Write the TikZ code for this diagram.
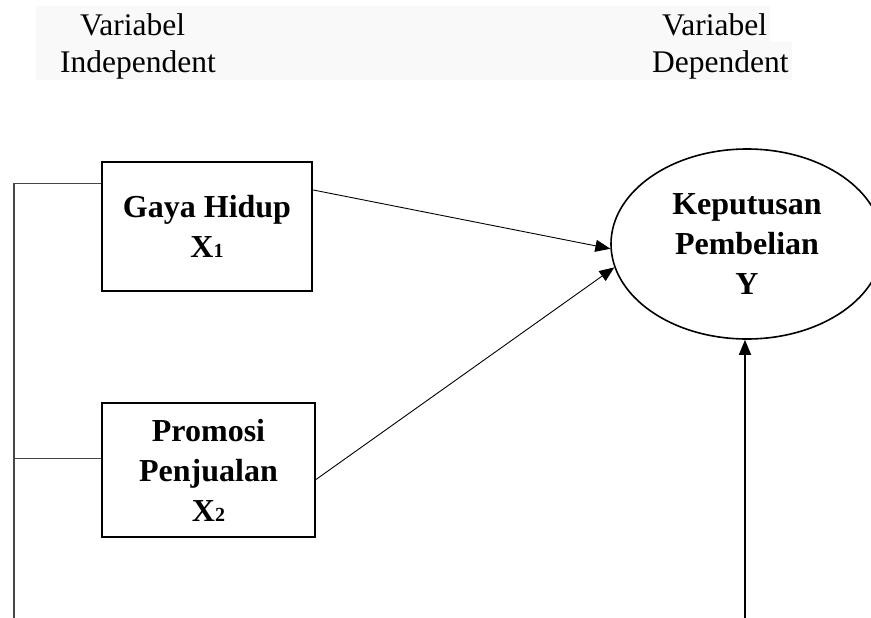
\documentclass[tikz,border=0pt]{standalone}
\usepackage{fontspec}
\setmainfont{Liberation Serif}
\usetikzlibrary{arrows.meta,shapes.geometric}
\definecolor{bandgray}{RGB}{249,249,249}
\definecolor{linegray}{RGB}{70,70,70}
\newcommand{\subsc}[1]{{\fontsize{20}{20}\selectfont #1}}
\begin{document}
\begin{tikzpicture}[x=1pt,y=-1pt,
  varbox/.style={draw, line width=2.2pt, rectangle, inner sep=0pt, align=center,
    font=\fontsize{32}{40}\selectfont\bfseries},
  varell/.style={draw, line width=1.6pt, ellipse, inner sep=0pt, align=center,
    font=\fontsize{32}{40}\selectfont\bfseries},
  lbl/.style={inner sep=0pt, anchor=base west, font=\fontsize{31.5}{37}\selectfont},
  arr/.style={line width=0.9pt, -{Triangle[length=15pt,width=12pt]}},
  feed/.style={line width=1.2pt, linegray}
]
\useasboundingbox (0,0) rectangle (871,618);
\fill[bandgray] (36,6) -- (770,6) -- (770,42) -- (792,42) -- (792,80) -- (36,80) -- cycle;

\node[lbl] (v1) at (80,36) {Variabel};
\node[lbl] (i1) at (60,73) {Independent};
\node[lbl] (v2) at (662,36) {Variabel};
\node[lbl] (d2) at (652,73) {Dependent};

\node[varbox, minimum width=210pt, minimum height=129pt] (g1) at (207,226.5)
  {Gaya Hidup\\X\subsc{1}};
\node[varbox, minimum width=213pt, minimum height=134pt] (g2) at (208.5,470)
  {Promosi\\Penjualan\\X\subsc{2}};
\node[varell, minimum width=272pt, minimum height=190pt] (y) at (747,244)
  {Keputusan\\Pembelian\\Y};

\coordinate (lb) at (14,618);
\coordinate (yb) at (745,618);

\draw[feed] (g1.158) -| (lb);
\draw[feed] (g2.174) -- (g2.174 -| lb);

\draw[arr] (g1.19) -- (y.182);
\draw[arr] (g2.-5) -- (y.190);
\draw[line width=1.5pt, -{Triangle[length=15pt,width=12pt]}] (yb) -- (yb |- y.south);
\end{tikzpicture}
\end{document}
